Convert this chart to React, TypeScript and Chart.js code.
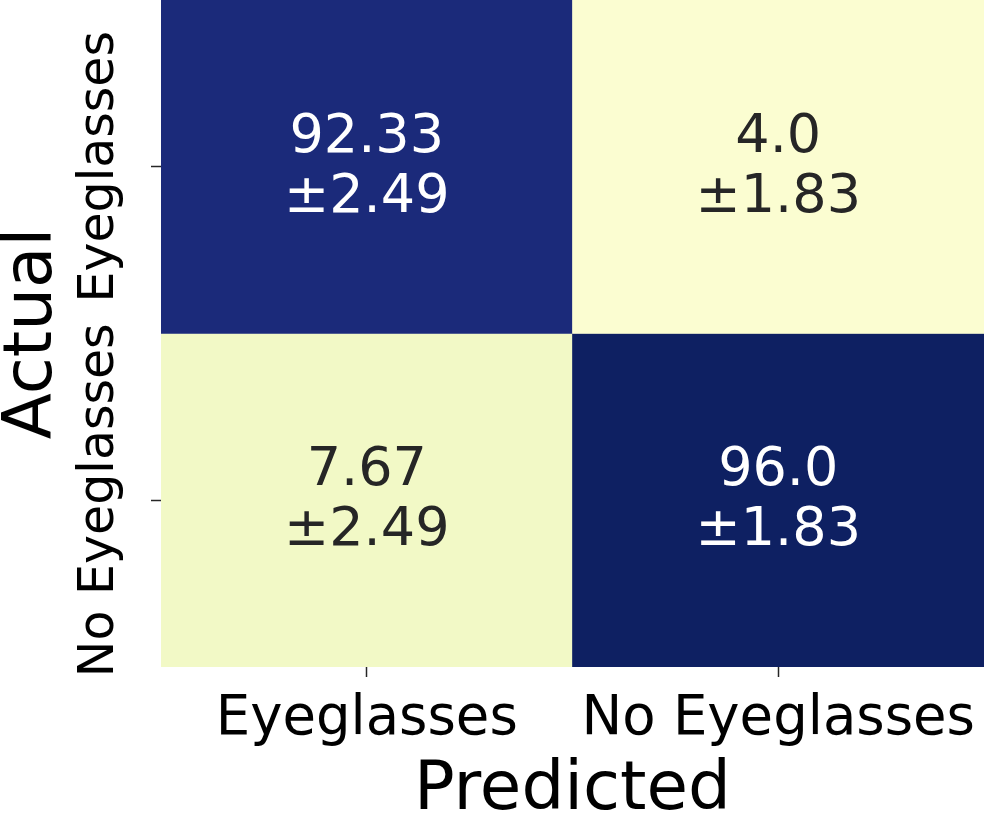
import React, { useEffect, useRef } from "react";
import { Chart, registerables } from "chart.js";

Chart.register(...registerables);

// ---- data ----
const xLabels = ["Eyeglasses", "No Eyeglasses"]; // predicted
const yLabels = ["Eyeglasses", "No Eyeglasses"]; // actual (top to bottom)
const meanEyeglassesRow = [92.33, 4.0];
const meanNoEyeglassesRow = [7.67, 96.0];
const stdEyeglassesRow = [2.49, 1.83];
const stdNoEyeglassesRow = [2.49, 1.83];
const xTitle = "Predicted";
const yTitle = "Actual";

// ---- styles ----
const FONT = "'DejaVu Sans', sans-serif";
const cellColorsEyeglassesRow = ["#1b2a7a", "#fbfdd1"];
const cellColorsNoEyeglassesRow = ["#f2f9c6", "#0e2062"];
const textColorsEyeglassesRow = ["#ffffff", "#262626"];
const textColorsNoEyeglassesRow = ["#262626", "#ffffff"];

const fmt = (v: number) => (Number.isInteger(v) ? v.toFixed(1) : String(v));

const rows = [
  { label: yLabels[0], means: meanEyeglassesRow, stds: stdEyeglassesRow, range: [1, 2], colors: cellColorsEyeglassesRow, text: textColorsEyeglassesRow },
  { label: yLabels[1], means: meanNoEyeglassesRow, stds: stdNoEyeglassesRow, range: [0, 1], colors: cellColorsNoEyeglassesRow, text: textColorsNoEyeglassesRow },
];

const annotationPlugin = {
  id: "cellAnnotations",
  afterDatasetsDraw(chart: any) {
    const ctx = chart.ctx;
    ctx.save();
    ctx.font = `54px ${FONT}`;
    ctx.textAlign = "center";
    ctx.textBaseline = "alphabetic";
    rows.forEach((row, di) => {
      const meta = chart.getDatasetMeta(di);
      meta.data.forEach((bar: any, j: number) => {
        const cx = bar.x;
        const cy = (bar.y + bar.base) / 2;
        ctx.fillStyle = row.text[j];
        ctx.fillText(fmt(row.means[j]), cx, cy - 15);
        ctx.fillText("±" + fmt(row.stds[j]), cx, cy + 45);
      });
    });
    ctx.restore();
  },
};

const yTickPlugin = {
  id: "yTickLabels",
  afterDraw(chart: any) {
    const ctx = chart.ctx;
    const ys = chart.scales.y;
    ctx.save();
    ctx.font = `49px ${FONT}`;
    ctx.fillStyle = "#000000";
    ctx.textAlign = "center";
    ctx.textBaseline = "alphabetic";
    rows.forEach((row) => {
      const py = ys.getPixelForValue((row.range[0] + row.range[1]) / 2);
      ctx.save();
      ctx.translate(ys.right - 48, py);
      ctx.rotate(-Math.PI / 2);
      ctx.fillText(row.label, 0, 0);
      ctx.restore();
    });
    ctx.restore();
  },
};

export default function App() {
  const ref = useRef<HTMLCanvasElement | null>(null);
  useEffect(() => {
    document.body.style.margin = "0";
    document.body.style.overflow = "hidden";
    const canvas = ref.current!;
    const chart = new Chart(canvas, {
      type: "bar",
      data: {
        labels: xLabels,
        datasets: rows.map((row) => ({
          label: row.label,
          data: row.means.map(() => [row.range[0], row.range[1]]) as any,
          backgroundColor: row.colors,
          borderWidth: 0,
          barPercentage: 1,
          categoryPercentage: 1,
          grouped: false,
        })),
      },
      options: {
        responsive: false,
        animation: false,
        devicePixelRatio: 1,
        layout: { padding: { top: 0, right: 2, left: 0, bottom: 0 } },
        plugins: { legend: { display: false }, tooltip: { enabled: false } },
        scales: {
          x: {
            type: "category",
            offset: true,
            grid: { offset: false, drawOnChartArea: false, drawTicks: true, tickLength: 10, color: "#262626", tickWidth: 1.5 },
            border: { display: false },
            ticks: { font: { family: FONT, size: 54.5 }, color: "#000000", padding: 10, maxRotation: 0, minRotation: 0 },
            title: { display: true, text: xTitle, font: { family: FONT, size: 67.5, lineHeight: 0.75 }, color: "#000000", padding: 0 },
            afterFit: (s: any) => {
              s.height = 150;
              s.paddingLeft = 0;
              s.paddingRight = 0;
            },
          },
          y: {
            type: "linear",
            min: 0,
            max: 2,
            afterBuildTicks: (s: any) => {
              s.ticks = rows.map((r) => ({ value: (r.range[0] + r.range[1]) / 2 }));
            },
            grid: { drawOnChartArea: false, drawTicks: true, tickLength: 10, color: "#262626", tickWidth: 1.5 },
            border: { display: false },
            ticks: { display: false },
            title: { display: true, text: yTitle, font: { family: FONT, size: 67.5, lineHeight: 1 }, color: "#000000", padding: 0 },
            afterFit: (s: any) => {
              s.width = 161;
              s.paddingTop = 0;
              s.paddingBottom = 0;
            },
          },
        },
      },
      plugins: [annotationPlugin, yTickPlugin],
    });
    return () => chart.destroy();
  }, []);
  return <canvas ref={ref} width={986} height={817} style={{ display: "block" }} />;
}
